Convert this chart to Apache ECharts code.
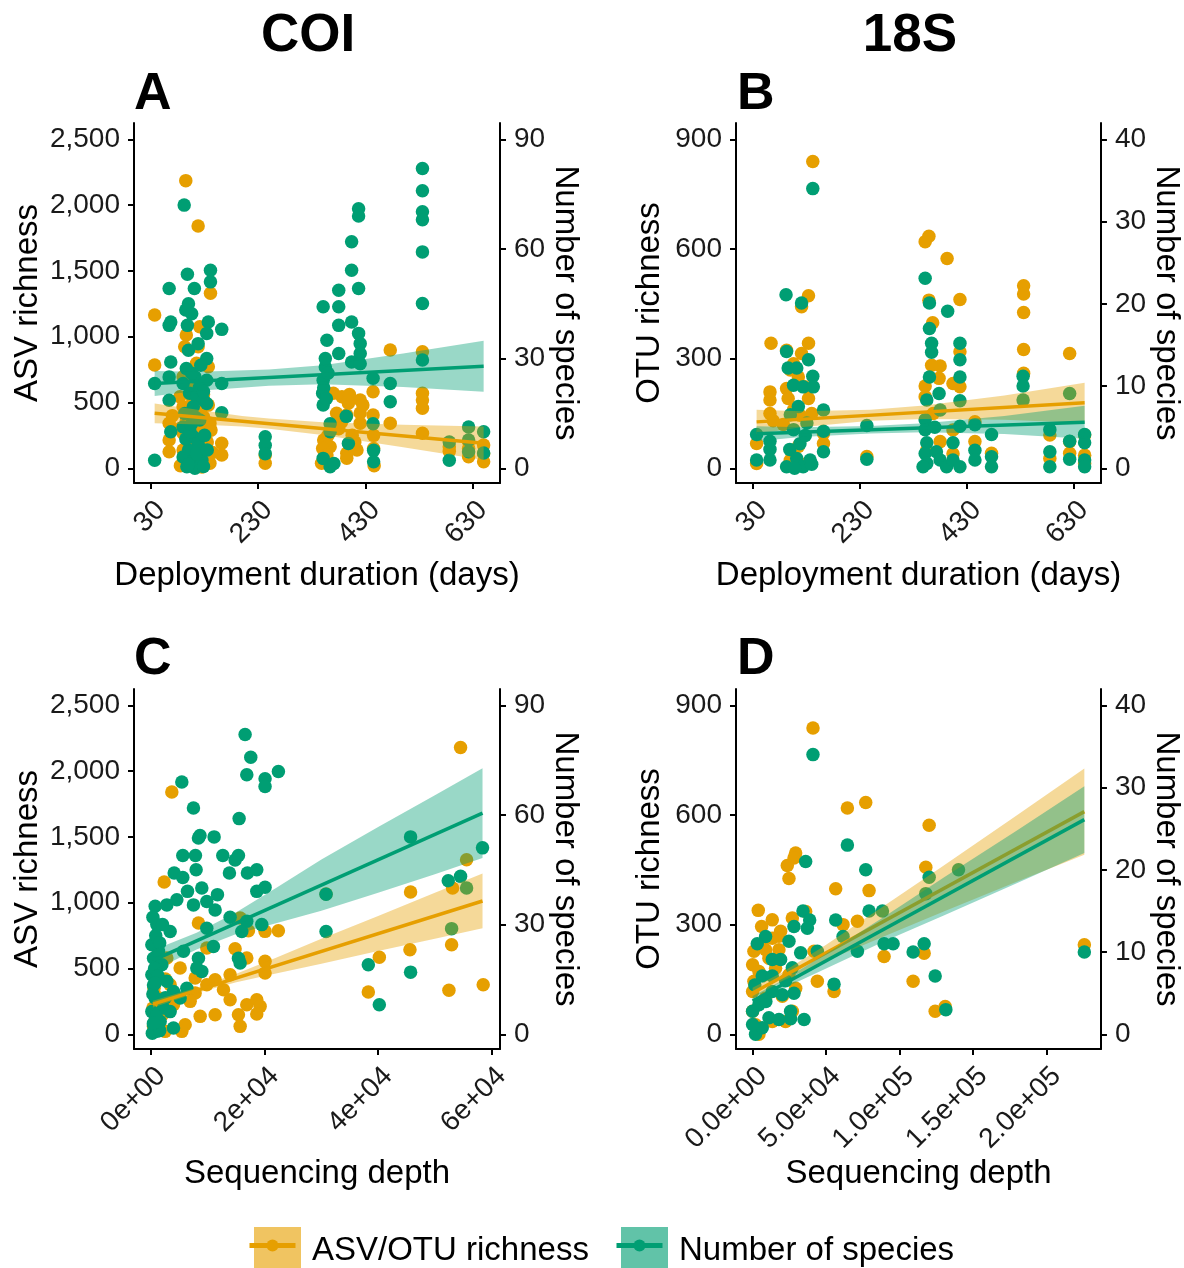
<!DOCTYPE html>
<html>
<head>
<meta charset="utf-8">
<script src="https://cdn.jsdelivr.net/npm/echarts@6/dist/echarts.min.js"></script>
<style>html,body{margin:0;padding:0;background:#fff;}#chart{width:1184px;height:1268px;}</style>
</head>
<body>
<div id="chart"></div>
<script>
// ---------- tick labels ----------
const daysTicks = [30, 230, 430, 630];
const daysTickLabels = ['30', '230', '430', '630'];
const depthTicksCOI = [0, 20000, 40000, 60000];
const depthTickLabelsCOI = ['0e+00', '2e+04', '4e+04', '6e+04'];
const depthTicks18S = [0, 50000, 100000, 150000, 200000];
const depthTickLabels18S = ['0.0e+00', '5.0e+04', '1.0e+05', '1.5e+05', '2.0e+05'];
const asvTicks = [0, 500, 1000, 1500, 2000, 2500];
const asvTickLabels = ['0', '500', '1,000', '1,500', '2,000', '2,500'];
const spTicksCOI = [0, 30, 60, 90];
const spTickLabelsCOI = ['0', '30', '60', '90'];
const otuTicks = [0, 300, 600, 900];
const otuTickLabels = ['0', '300', '600', '900'];
const spTicks18S = [0, 10, 20, 30, 40];
const spTickLabels18S = ['0', '10', '20', '30', '40'];

// ---------- Panel A: COI, deployment duration ----------
const A_asv = [[95,2186],[118,1841],[37,1165],[37,785],[141,1330],[96,1013],[93,924],[121,1076],[118,924],[115,798],[137,772],[90,696],[84,544],[90,468],[103,418],[128,392],[140,342],[64,342],[64,215],[64,126],[90,266],[103,190],[90,139],[115,89],[131,63],[140,38],[162,190],[162,101],[100,700],[110,620],[128,560],[137,480],[84,300],[100,250],[120,320],[135,200],[112,150],[98,60],[125,10],[85,20],[145,120],[142,290],[70,400],[108,520],[124,460],[96,360],[132,240],
[243,101],[243,38],[370,570],[386,544],[398,519],[398,494],[420,519],[376,418],[395,405],[420,342],[352,215],[364,164],[395,114],[414,139],[364,38],[348,38],[395,76],[350,150],[358,100],[380,300],[405,250],[410,200],[420,420],[425,480],[360,250],[385,350],[400,560],
[444,582],[444,405],[445,250],[445,150],[446,20],[476,899],[476,342],[536,886],[536,570],[536,519],[536,456],[536,266],[586,164],[586,130],[622,202],[622,150],[622,88],[650,177],[650,110],[650,50]];
const A_sp = [[37,23.2],[37,2.2],[64,49.2],[64,39.1],[67,40],[67,29.1],[64,25],[64,18.6],[67,10],[92,72],[98,53.1],[111,49.2],[100,45],[95,43.3],[106,42.3],[98,39.1],[141,54.2],[141,51],[137,40],[134,36.9],[118,34.1],[100,32.3],[134,30],[123,28.2],[96,27.3],[112,25],[134,24.1],[162,38],[162,23.2],[162,15.2],
[90,23.2],[102,20.5],[115,19.6],[128,18.6],[134,17.7],[109,16.8],[93,15],[121,13.2],[90,11.3],[109,8.6],[118,6.8],[100,5],[90,3.1],[109,2.2],[121,1.3],[97,0.4],[112,0],[125,2.2],[95,8],[103,10],[130,9],[115,4],[105,12],[135,5],[128,0.5],[100,1],[120,22],[106,26],[128,21],[112,14],
[243,8.6],[243,6.3],[243,4],
[351,44.2],[358,35],[355,27.7],[351,24.1],[350,20.5],[351,17.3],[364,12.2],[364,10],[351,2.7],[364,0.4],[371,1.3],[355,30],[360,26],[352,22],[357,19],
[380,48.7],[380,44.2],[380,39.1],[380,31.4],[394,14.2],[398,6.8],[404,62],[404,54.2],[417,71],[417,69],[417,49.2],[404,40],[417,36.9],[420,34.1],[420,31.4],[404,29.1],[420,28.6],
[444,24.6],[444,12.2],[445,4.9],[445,1.8],[476,23.2],[476,18.2],
[536,82],[536,75.9],[536,70.2],[536,68],[536,59.2],[536,45.1],[536,29.6],
[586,7.2],[586,2.2],[622,11.3],[622,7.7],[622,4.5],[650,10],[650,4.2]];
const A_fitAsv = [[37,418],[650,190]];
const A_fitSp = [[37,23.2],[650,27.9]];
const A_bandAsv = [[37,343,493],[120,332,442],[200,318,398],[250,300,378],[350,252,350],[500,160,330],[650,63,317]];
const A_bandSp = [[37,19.8,26.6],[120,21.2,26.4],[250,22.6,27.0],[350,23.0,28.2],[500,22.2,31.4],[650,20.9,34.9]];

// ---------- Panel B: 18S, deployment duration ----------
const B_otu = [[142,839],[134,472],[121,442],[64,342],[134,342],[93,323],[121,314],[106,286],[100,269],[115,250],[127,223],[62,209],[62,187],[93,218],[96,191],[134,191],[62,150],[106,160],[118,145],[140,150],[68,130],[87,120],[37,68],[37,13],[162,68],[162,95],[100,22],[131,13],[115,60],
[243,32],
[359,635],[352,620],[393,574],[417,462],[359,460],[366,398],[364,282],[380,280],[378,246],[352,225],[404,232],[417,319],[417,223],[352,196],[367,150],[404,105],[380,73],[355,50],[404,40],
[445,127],[445,73],[476,41],
[536,499],[536,477],[536,426],[536,325],[536,260],
[585,91],[585,27],[622,314],[622,73],[622,41],[650,91],[650,36],[650,13]];
const B_sp = [[142,34.0],[92,21.1],[121,20.1],[93,14.2],[96,12.2],[112,12.2],[134,13.2],[142,11.2],[106,10.1],[124,9.9],[143,9.9],[162,7.1],[37,4.1],[62,3.3],[62,2.3],[62,1.0],[37,1.0],
[99,2.3],[112,1.2],[124,0.2],[137,1.0],[93,0.2],[118,3.0],[106,4.7],[131,5.5],[100,6.5],[115,7.5],[128,4],[140,0.5],[108,0],
[162,4.5],[162,2.0],[243,5.2],[243,1.1],
[352,23.1],[360,20.1],[360,17.0],[364,15.2],[364,14.1],[360,11.1],[355,8.3],[378,9.1],[380,7.1],[352,5.9],[352,4.7],[355,3.1],[352,1.8],[355,0.6],[373,2.0],[380,1.0],[392,0.2],[348,0.2],[370,5],
[394,19.1],[417,15.2],[417,13.2],[417,11.1],[417,8.2],[417,5.1],[404,3.1],[404,1.0],[417,0.2],
[445,5.3],[445,2.2],[445,1.0],[476,4.1],[476,1.4],[476,0.2],
[535,11.2],[535,10.0],[535,8.3],
[585,4.7],[585,2.0],[585,0.2],[622,9.1],[622,3.3],[622,1.1],[650,4.1],[650,3.1],[650,1.0],[650,0.2]];
const B_fitOtu = [[37,127],[650,179]];
const B_fitSp = [[37,4.2],[650,5.6]];
const B_bandOtu = [[37,94,160],[120,112,156],[250,130,160],[350,135,172],[500,133,199],[650,124,234]];
const B_bandSp = [[37,3.3,5.1],[120,3.8,5.0],[250,4.24,5.14],[350,4.37,5.47],[500,4.16,6.36],[650,3.6,7.6]];

// ---------- Panel C: COI, sequencing depth ----------
const C_asv = [[54530,2180],[3640,1841],[55590,1327],[45720,1081],[30820,1066],[53120,1111],[2290,1157],[52950,681],[45610,643],[40210,585],[38270,321],[52480,334],[58520,377],
[8330,845],[22420,787],[20070,782],[15680,884],[17140,787],[9800,656],[14790,650],[20070,554],[20070,466],[16850,580],[13910,453],[11270,415],[7750,428],[5100,504],[9800,377],[12740,339],[7750,314],[6870,250],[13910,263],[16850,225],[18610,263],[19200,212],[18610,154],[15380,149],[15680,60],[11270,149],[8630,136],[5990,73],[5400,22],[2460,22],[3930,225],[1580,200],[3340,377],[2760,580],
[300,200],[800,120],[1500,50],[500,350],[1200,280],[2000,150],[400,60],[2500,420]];
const C_sp = [[16550,82],[17550,75.8],[16850,71],[20070,69.9],[20070,67.8],[22420,71.9],[5400,69],[7450,61.9],[15500,59],[8330,53.7],[8600,54.4],[11090,54],[5570,48.9],[7800,48.9],[12620,48.9],[15380,48.9],[14790,47.7],[7920,45],[4050,44.1],[5570,42.9],[13790,44.1],[16960,44.1],[18610,45],[8920,40],[6400,39.1],[11680,38.2],[18610,39.1],[20070,40.2],[4520,36.8],[9800,36.3],[700,35],[2760,35.4],[7450,35.4],[11270,34],[13910,32],[16850,30.9],[19490,30],[9800,29],[15970,28.1],[1000,30],[3340,28.1],[10970,24],[5690,22.7],[8330,20.8],[15380,20.8],[15680,19.5],[8920,17.2],[6280,12.6],[3930,11.7],
[45720,54],[58400,51],[52360,42],[54530,43.2],[55590,40],[52950,28.9],[30820,28.1],[30820,38.3],[38270,19],[45720,17],[40210,8.1],
[115,24.5],[410,20.8],[115,16.3],[410,13.5],[700,9.9],[115,6.2],[410,2.6],[1000,0.8],[1580,3.5],[2170,7.2],[2760,14.5],[1880,19],[1290,22.7],[3340,6.2],[3930,1.7],[200,0.3],[5100,9.9],[8040,18.1],[300,32],[800,27],[1500,25],[2000,30],[600,18],[1200,16],[300,11],[900,5],[1500,1],[2500,10],[400,3],[700,14]];
const C_fitAsv = [[300,229],[58400,1013]];
const C_fitSp = [[300,20.2],[58400,60.5]];
const C_bandAsv = [[300,204,254],[8000,313,353],[15000,395,460],[22000,462,582],[30000,535,725],[40000,632,898],[50000,725,1075],[58400,805,1221]];
const C_bandSp = [[300,17.4,23.0],[8000,23.2,27.8],[15000,27.4,33.4],[22000,30.4,40.0],[30000,33.8,47.8],[40000,38.7,56.7],[50000,43.8,65.4],[58400,48.2,72.8]];

// ---------- Panel D: 18S, sequencing depth ----------
const D_otu = [[41060,838],[64450,619],[76930,634],[120060,572],[117790,457],[225600,245],[29260,496],[28130,482],[23590,462],[24720,426],[56500,398],[79200,393],[3840,339],[13370,313],[6110,295],[19050,282],[27000,318],[36070,336],[61500,300],[71260,309],[8830,231],[17910,231],[41750,227],[89420,213],[116660,222],[109160,145],[44010,145],[55370,117],[124150,63],[130960,76],
[0,190],[4300,172],[900,145],[11100,208],[15600,181],[24700,163],[29300,126],[0,117],[8800,99],[20200,104],[27000,63],[13400,35],[2000,26],[0,63],[4300,0],[22400,35],[6560,245],[17900,268],[900,227],[13400,263]];
const D_sp = [[41060,34.0],[64450,23.0],[76930,20.0],[36070,21.0],[120060,19.1],[117790,17.1],[140030,20.0],[88280,15.0],[79200,15.0],[34250,15.0],[38800,13.9],[37210,12.9],[56500,13.9],[61500,11.9],[28130,13.1],[8830,11.9],[3160,11.0],[24720,11.3],[32670,9.9],[44010,10.1],[71260,10.1],[89420,11.0],[95550,11.0],[109160,10.0],[116660,11.0],[13370,9.1],[19050,9.1],[27000,8.1],[6560,7.1],[13370,7.1],[22450,6.5],[55370,6.1],[124150,7.1],[131410,3.0],[225600,10.0],[28130,5.0],[20200,4.8],[13370,5.2],[4300,3.6],[0,2.8],[11100,2.0],[25850,1.9],[17900,1.8],[2000,0],[6560,0.8],[0,1.2],[25850,2.8],[35000,1.8],[9000,4],[1500,6]];
const D_fitOtu = [[0,113],[225600,609]];
const D_fitSp = [[0,4.05],[225600,26.1]];
const D_bandOtu = [[0,99,127],[20000,145,169],[50000,201,245],[90000,269,353],[130000,336,462],[180000,418,600],[225600,491,727]];
const D_bandSp = [[0,3.45,4.65],[20000,5.5,6.5],[50000,8.0,9.8],[90000,11.35,14.35],[130000,14.45,19.05],[180000,18.4,24.8],[225600,22.05,30.15]];

// ---------- styling ----------
const FONT = "'Liberation Sans', Arial, sans-serif";
const ORANGE = '#E69F00', GREEN = '#009E73';
const ORANGE_BAND = 'rgba(230,159,0,0.4)', GREEN_BAND = 'rgba(0,158,115,0.4)';
const NAME_ASV = 'ASV/OTU richness', NAME_SP = 'Number of species';

const grids = [
  {left: 134, top: 123, width: 366, height: 360},
  {left: 736, top: 123, width: 366, height: 360},
  {left: 134, top: 689, width: 366, height: 360},
  {left: 736, top: 689, width: 366, height: 360}
];

function lab(ticks, labels) {
  return function (v) { const i = ticks.indexOf(v); return i >= 0 ? labels[i] : ''; };
}
const axisLineStyle = {color: '#000', width: 2};

function xAx(g, min, max, ticks, labels, name, gap) {
  return {
    type: 'value', gridIndex: g, min: min, max: max,
    name: name, nameLocation: 'middle', nameGap: gap,
    nameTextStyle: {fontSize: 33, color: '#000', fontFamily: FONT},
    axisLine: {show: true, onZero: false, lineStyle: axisLineStyle},
    axisTick: {show: true, length: 6, customValues: ticks, lineStyle: axisLineStyle},
    axisLabel: {customValues: ticks, formatter: lab(ticks, labels), rotate: 45, fontSize: 28, color: '#1a1a1a', fontFamily: FONT, margin: 13, verticalAlign: 'top'},
    splitLine: {show: false}
  };
}
function yAx(g, pos, min, max, ticks, labels, name, gap) {
  return {
    type: 'value', gridIndex: g, position: pos, min: min, max: max,
    name: name, nameLocation: 'middle', nameGap: gap, nameRotate: pos === 'left' ? 90 : -90,
    nameTextStyle: {fontSize: 33, color: '#000', fontFamily: FONT},
    axisLine: {show: true, onZero: false, lineStyle: axisLineStyle},
    axisTick: {show: true, length: 6, customValues: ticks, lineStyle: axisLineStyle},
    axisLabel: {customValues: ticks, formatter: lab(ticks, labels), fontSize: 28, color: '#1a1a1a', fontFamily: FONT, margin: 14},
    splitLine: {show: false}
  };
}

const COI_MIN = -112, COI_MAX = 2624, COI_K = 2500 / 90;
const S18_MIN = -40.2, S18_MAX = 944.5, S18_K = 900 / 40;

const xAxis = [
  xAx(0, -1.5, 680.5, daysTicks, daysTickLabels, 'Deployment duration (days)', 76),
  xAx(1, -1.5, 680.5, daysTicks, daysTickLabels, 'Deployment duration (days)', 76),
  xAx(2, -3030, 61480, depthTicksCOI, depthTickLabelsCOI, 'Sequencing depth', 108),
  xAx(3, -11300, 236900, depthTicks18S, depthTickLabels18S, 'Sequencing depth', 108)
];
const yAxis = [
  yAx(0, 'left', COI_MIN, COI_MAX, asvTicks, asvTickLabels, 'ASV richness', 90),
  yAx(0, 'right', COI_MIN / COI_K, COI_MAX / COI_K, spTicksCOI, spTickLabelsCOI, 'Number of species', 46),
  yAx(1, 'left', S18_MIN, S18_MAX, otuTicks, otuTickLabels, 'OTU richness', 70),
  yAx(1, 'right', S18_MIN / S18_K, S18_MAX / S18_K, spTicks18S, spTickLabels18S, 'Number of species', 46),
  yAx(2, 'left', COI_MIN, COI_MAX, asvTicks, asvTickLabels, 'ASV richness', 90),
  yAx(2, 'right', COI_MIN / COI_K, COI_MAX / COI_K, spTicksCOI, spTickLabelsCOI, 'Number of species', 46),
  yAx(3, 'left', S18_MIN, S18_MAX, otuTicks, otuTickLabels, 'OTU richness', 70),
  yAx(3, 'right', S18_MIN / S18_K, S18_MAX / S18_K, spTicks18S, spTickLabels18S, 'Number of species', 46)
];

function scatter(name, data, xi, yi, color, z) {
  return {type: 'scatter', name: name, data: data, xAxisIndex: xi, yAxisIndex: yi,
    symbol: 'circle', symbolSize: 13.5, itemStyle: {color: color, opacity: 1}, z: z, silent: true};
}
function band(name, rows, xi, yi, fill, z) {
  return {
    type: 'custom', name: name, xAxisIndex: xi, yAxisIndex: yi, z: z, silent: true,
    data: rows, encode: {x: 0, y: [1, 2]},
    renderItem: function (params, api) {
      if (params.dataIndex !== 0) return null;
      const up = rows.map(r => api.coord([r[0], r[2]]));
      const lo = rows.slice().reverse().map(r => api.coord([r[0], r[1]]));
      return {type: 'polygon', shape: {points: up.concat(lo)}, style: {fill: fill}};
    }
  };
}
function fit(name, data, xi, yi, color, z) {
  return {type: 'line', name: name, data: data, xAxisIndex: xi, yAxisIndex: yi,
    symbol: 'none', lineStyle: {color: color, width: 3.5}, itemStyle: {color: color}, z: z, silent: true};
}

const panels = [
  {asv: A_asv, sp: A_sp, fa: A_fitAsv, fs: A_fitSp, ba: A_bandAsv, bs: A_bandSp},
  {asv: B_otu, sp: B_sp, fa: B_fitOtu, fs: B_fitSp, ba: B_bandOtu, bs: B_bandSp},
  {asv: C_asv, sp: C_sp, fa: C_fitAsv, fs: C_fitSp, ba: C_bandAsv, bs: C_bandSp},
  {asv: D_otu, sp: D_sp, fa: D_fitOtu, fs: D_fitSp, ba: D_bandOtu, bs: D_bandSp}
];
const series = [];
panels.forEach(function (p, i) {
  series.push(scatter(NAME_ASV, p.asv, i, 2 * i, ORANGE, 2));
  series.push(scatter(NAME_SP, p.sp, i, 2 * i + 1, GREEN, 3));
  series.push(band(NAME_ASV, p.ba, i, 2 * i, ORANGE_BAND, 4));
  series.push(fit(NAME_ASV, p.fa, i, 2 * i, ORANGE, 5));
  series.push(band(NAME_SP, p.bs, i, 2 * i + 1, GREEN_BAND, 6));
  series.push(fit(NAME_SP, p.fs, i, 2 * i + 1, GREEN, 7));
});

function txt(text, x, y, size, align) {
  return {type: 'text', x: x, y: y, z: 100,
    style: {text: text, font: 'bold ' + size + 'px ' + FONT, fill: '#000',
      align: align, textAlign: align, verticalAlign: 'middle', textVerticalAlign: 'middle'}};
}
function keyMark(cx, cy, color) {
  return [
    {type: 'line', z: 100, shape: {x1: cx - 23, y1: cy, x2: cx + 23, y2: cy}, style: {stroke: color, lineWidth: 5}},
    {type: 'circle', z: 101, shape: {cx: cx, cy: cy, r: 6}, style: {fill: color}}
  ];
}

const legendCommon = {
  orient: 'horizontal', top: 1222, itemWidth: 47, itemHeight: 47, selectedMode: false,
  textStyle: {fontSize: 33, color: '#000', fontFamily: FONT, padding: [0, 0, 0, 6]}
};

const option = {
  animation: false,
  backgroundColor: '#fff',
  grid: grids,
  xAxis: xAxis,
  yAxis: yAxis,
  series: series,
  legend: [
    Object.assign({}, legendCommon, {left: 249, data: [{name: NAME_ASV, icon: 'rect', itemStyle: {color: 'rgba(230,159,0,0.62)', borderWidth: 0}}]}),
    Object.assign({}, legendCommon, {left: 616, data: [{name: NAME_SP, icon: 'rect', itemStyle: {color: 'rgba(0,158,115,0.62)', borderWidth: 0}}]})
  ],
  graphic: [
    txt('COI', 308, 36, 53, 'center'),
    txt('18S', 910, 36, 53, 'center'),
    txt('A', 134, 95, 52, 'left'),
    txt('B', 737, 95, 52, 'left'),
    txt('C', 134, 660, 52, 'left'),
    txt('D', 737, 660, 52, 'left')
  ].concat(keyMark(272.5, 1245.5, ORANGE)).concat(keyMark(639.5, 1245.5, GREEN))
};

const chart = echarts.init(document.getElementById('chart'), null, {renderer: 'canvas'});
chart.setOption(option);
</script>
</body>
</html>
